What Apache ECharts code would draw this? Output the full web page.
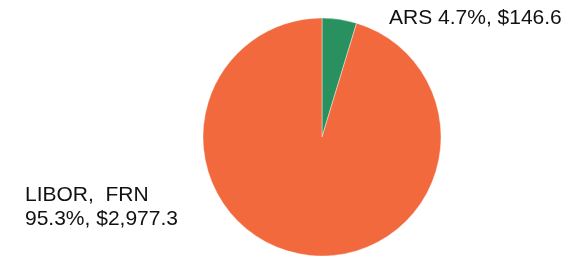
<!DOCTYPE html>
<html>
<head>
<meta charset="utf-8">
<script src="https://cdn.jsdelivr.net/npm/echarts@6/dist/echarts.min.js"></script>
<style>html,body{margin:0;padding:0;background:#fff;}#c{width:584px;height:256px;}</style>
</head>
<body>
<div id="c"></div>
<script>
const categories = ["ARS", "LIBOR,  FRN"];
const values = [146.6, 2977.3];
const colors = ["#29915f", "#f2693d"];

function fmtMoney(v) {
  return v.toLocaleString('en-US', {minimumFractionDigits: 1, maximumFractionDigits: 1});
}

const chart = echarts.init(document.getElementById('c'), null, {renderer: 'canvas'});
chart.setOption({
  animation: false,
  backgroundColor: '#ffffff',
  series: [{
    type: 'pie',
    center: [322, 137],
    radius: 119,
    startAngle: 90,
    clockwise: true,
    percentPrecision: 1,
    itemStyle: {borderColor: '#ffffff', borderWidth: 0.4},
    data: categories.map((n, i) => ({name: n, value: values[i], itemStyle: {color: colors[i]}})),
    label: {
      show: true,
      position: 'outside',
      fontFamily: 'Liberation Sans, Arial, sans-serif',
      fontSize: 21,
      lineHeight: 24,
      color: '#111111',
      formatter: function (p) {
        const pct = p.percent.toFixed(1) + '%, $' + fmtMoney(p.value);
        return p.dataIndex === 0 ? p.name + ' ' + pct : p.name + '\n' + pct;
      }
    },
    labelLine: {show: false},
    labelLayout: function (p) {
      if (p.dataIndex === 0) {
        return {x: 389, y: 6, align: 'left', verticalAlign: 'top'};
      }
      return {x: 25, y: 183, align: 'left', verticalAlign: 'top'};
    }
  }]
});
</script>
</body>
</html>
